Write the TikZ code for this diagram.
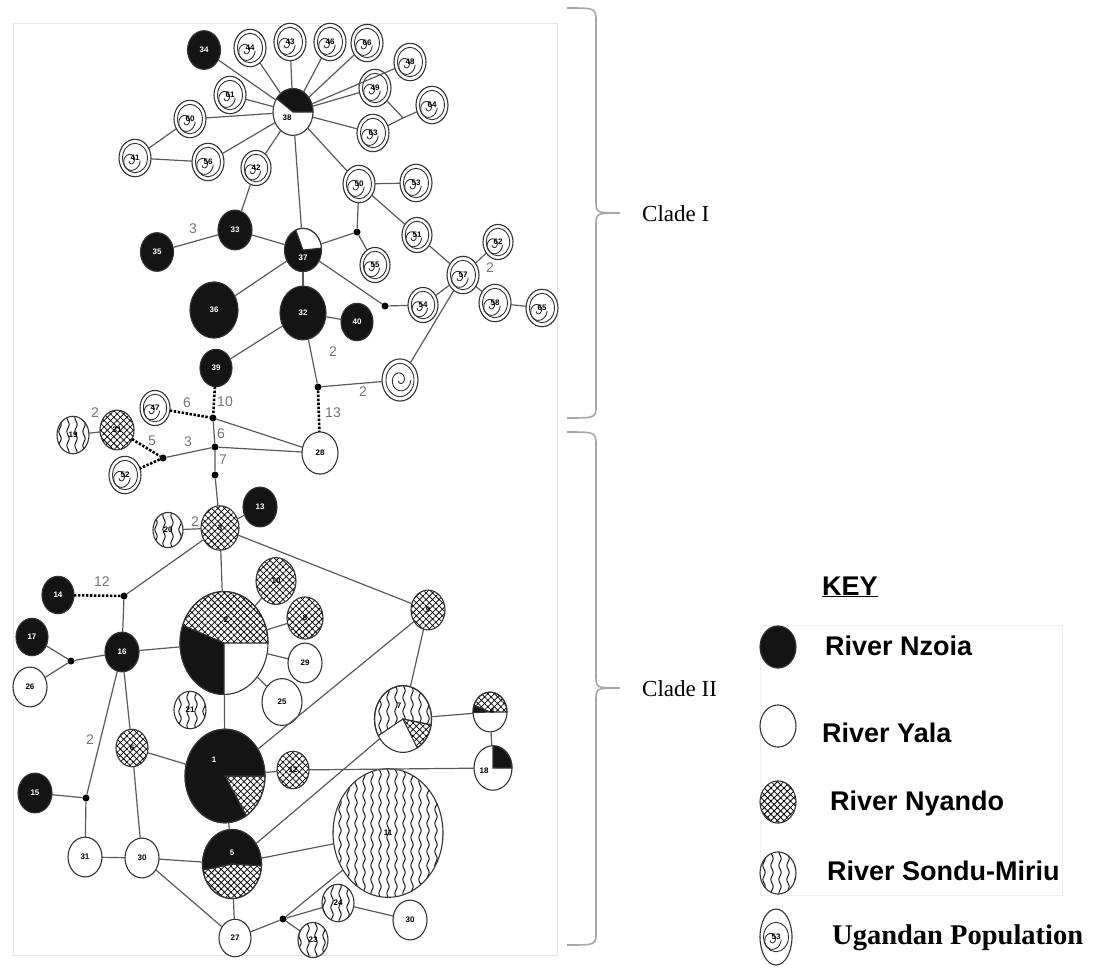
\documentclass[tikz,border=0pt]{standalone}
\usepackage{fontspec}
\setmainfont{Liberation Serif}
\setsansfont{Liberation Sans}
\usetikzlibrary{shapes.geometric,patterns.meta}

\tikzdeclarepattern{
  name=vwave,
  type=uncolored,
  bounding box={(-1pt,-1pt) and (9pt,15pt)},
  tile size={(8pt,14pt)},
  code={\draw[line width=0.9pt] (4pt,0pt) .. controls (2.4pt,3.5pt) .. (4pt,7pt) .. controls (5.6pt,10.5pt) .. (4pt,14pt);}
}

\newcommand\hapfont{\sffamily\bfseries\fontsize{8}{9}\selectfont}
\newcommand\numfont{\sffamily\fontsize{14}{16}\selectfont}
\newcommand\keyfont{\sffamily\bfseries\fontsize{27}{30}\selectfont}
\newcommand\cladefont{\rmfamily\fontsize{23}{26}\selectfont}

% pie slice of a haplotype: node, width, start, end, fill
\newcommand\hwedge[5]{%
  \pgfmathsetmacro\wrx{0.5*#2}\pgfmathsetmacro\wry{0.585*#2}%
  \path[draw=black!80, line width=1.1pt, #5] (#1.center) -- ++(#3:\wrx pt and \wry pt)
    arc[start angle=#3, end angle=#4, x radius=\wrx pt, y radius=\wry pt] -- cycle;}

\tikzset{
  hap/.style={ellipse, draw=black!80, line width=1.1pt, minimum width=#1,
    minimum height={1.17*#1}, inner sep=0pt, outer sep=0pt, font=\hapfont},
  nzfill/.style={fill=black!92},
  yafill/.style={fill=white},
  nyfill/.style={pattern={Hatch[angle=45,distance=4.6pt,line width=0.75pt]}},
  sofill/.style={pattern=vwave},
  nz/.style={hap=#1, nzfill, text=white},
  ya/.style={hap=#1, yafill},
  ny/.style={hap=#1, nyfill},
  so/.style={hap=#1, sofill},
  ug/.style={hap=#1, fill=white, path picture={
    \draw[line width=0.9pt] (path picture bounding box.center)
      ellipse[x radius={0.39*#1pt}, y radius={0.46*#1pt}];
    \draw[line width=0.9pt, shift={(path picture bounding box.center)}]
      plot[domain=0:520, samples=50, smooth, variable=\t]
      ({(0.30-0.26*\t/520)*#1*cos(\t)}, {(0.35-0.30*\t/520)*#1*sin(\t)});}},
  jn/.style={circle, fill=black, inner sep=0pt, minimum size=7pt},
  lnk/.style={draw=black!65, line width=1.2pt},
  mut/.style={draw=black, line width=2.6pt, dash pattern=on 2.4pt off 1.6pt},
  num/.style={font=\numfont, text=black!55, inner sep=1pt},
  brc/.style={draw=gray!70, line width=1.6pt},
}

\begin{document}
\begin{tikzpicture}[x=1pt,y=-1pt]
\useasboundingbox (0,0) rectangle (1111,967);

\draw[gray!20, line width=0.6pt] (13,23) rectangle (557,955);
\draw[gray!12, line width=0.6pt] (760,625) rectangle (1062,895);

%%%%%%%%%%%%%-------------Clade I
\node[ya=40] (h38) at (293,112) {};
\node[nz=33] (h34) at (204,50) {34};
\node[ug=32] (h44) at (250,48) {44};
\node[ug=32] (h43) at (290,42) {43};
\node[ug=32] (h46) at (330,42) {46};
\node[ug=32] (h66) at (367,43) {66};
\node[ug=32] (h48) at (410,62) {48};
\node[ug=32] (h49) at (375,88) {49};
\node[ug=32] (h64) at (432,105) {64};
\node[ug=32] (h63a) at (373,133) {63};
\node[ug=32] (h61) at (230,95) {61};
\node[ug=32] (h60) at (190,119) {60};
\node[ug=32] (h41) at (135,158) {41};
\node[ug=32] (h56) at (208,162) {56};
\node[ug=30] (h42) at (256,168) {42};
\node[ug=32] (h50) at (359,184) {50};
\node[ug=32] (h53) at (416,183) {53};
\node[ug=30] (h51) at (417,235) {51};
\node[ug=30] (h55) at (375,265) {55};
\node[ug=30] (h62) at (498,242) {62};
\node[ug=32] (h57) at (463,275) {57};
\node[ug=32] (h58) at (495,303) {58};
\node[ug=32] (h63b) at (542,308) {65};
\node[ug=30] (h54) at (423,305) {54};
\node[ug=36] (hU) at (400,380) {};
\node[nz=34] (h33) at (235,230) {33};
\node[nz=33] (h35) at (157,252) {35};
\node[nz=37] (h37) at (303,250) {};
\node[nz=48] (h36) at (214,310) {36};
\node[nz=46] (h32) at (303,313) {32};
\node[nz=32] (h40) at (357,322) {40};
\node[nz=32] (h39) at (216,368) {39};
\node[jn] (j1) at (357,232) {};
\node[jn] (j2) at (385,306) {};
\node[jn] (j3) at (318,387) {};
\coordinate (c49) at (403,118);

\hwedge{h38}{40}{0}{145}{nzfill}
\hwedge{h37}{37}{5}{113}{yafill}
\node[font=\hapfont] (l38) at (287,118) {38};
\node[font=\hapfont, text=white] (l37) at (303,258) {37};

\foreach \n in {34,44,43,46,66,48,49,63a,61,60,56,42,50,37}{
\draw[lnk] (h38)--(h\n);}
\draw[lnk] (h49)--(c49)--(h64);
\draw[lnk] (h63a)--(c49);
\draw[lnk] (h41)--(h60);
\draw[lnk] (h41)--(h56);
\draw[lnk] (h42)--(h33);
\draw[lnk] (h33)--(h35);
\draw[lnk] (h33)--(h37);
\draw[lnk] (h37)--(j1)--(h50);
\draw[lnk] (j1)--(h55);
\draw[lnk] (h50)--(h53);
\draw[lnk] (h50)--(h51)--(h57);
\draw[lnk] (h57)--(h62);
\draw[lnk] (h57)--(h58)--(h63b);
\draw[lnk] (h57)--(h54);
\draw[lnk] (h57)--(hU);
\draw[lnk] (h37)--(j2)--(h54);
\draw[lnk] (h37)--(h36);
\draw[lnk] (h37)--(h32);
\draw[lnk] (h32)--(h40);
\draw[lnk] (h32)--(h39);
\draw[lnk] (h32)--(j3)--(hU);

\node[num] (e1) at (193,229) {3};
\node[num] (e2) at (490,268) {2};
\node[num] (e3) at (333,352) {2};
\node[num] (e4) at (363,392) {2};

%%%%%%%%%%%%%-------------between the clades
\node[ug=30] (h47) at (155,408) {47};
\node[ny=34] (h31n) at (117,430) {31};
\node[so=32] (h19) at (73,435) {19};
\node[ug=32] (h52) at (125,475) {52};
\node[ya=36] (h28) at (320,453) {28};
\node[jn] (j4) at (213,418) {};
\node[jn] (j5) at (215,447) {};
\node[jn] (j6) at (163,458) {};
\node[jn] (j7) at (215,475) {};

\draw[mut] (j3)--(h28);
\draw[mut] (h39)--(j4);
\draw[mut] (h47)--(j4);
\draw[mut] (h31n)--(j6)--(h52);
\draw[lnk] (j4)--(j5)--(j7);
\draw[lnk] (j4)--(h28);
\draw[lnk] (j5)--(h28);
\draw[lnk] (j5)--(j6);
\draw[lnk] (h19)--(h31n);

\node[num] (e5) at (225,402) {10};
\node[num] (e6) at (333,413) {13};
\node[num] (e7) at (187,403) {6};
\node[num] (e8) at (95,413) {2};
\node[num] (e9) at (221,434) {6};
\node[num] (e10) at (188,442) {3};
\node[num] (e11) at (152,441) {5};
\node[num] (e12) at (223,460) {7};

%%%%%%%%%%%%%-------------Clade II
\node[ny=38] (h3) at (220,528) {3};
\node[nz=34] (h13) at (260,507) {13};
\node[so=30] (h20) at (168,530) {20};
\node[nz=32] (h14) at (58,595) {14};
\node[nz=32] (h17) at (32,637) {17};
\node[ya=34] (h26) at (30,687) {26};
\node[nz=34] (h16) at (122,652) {16};
\node[ya=88] (h2) at (224,643) {};
\node[ny=40] (h10) at (276,581) {10};
\node[ny=36] (h8) at (305,618) {8};
\node[ya=34] (h29) at (305,663) {29};
\node[ya=40] (h25) at (282,702) {25};
\node[so=32] (h21) at (190,710) {21};
\node[ny=34] (h9) at (428,610) {9};
\node[ya=57] (h7) at (403,719) {};
\node[ya=34] (h4) at (490,712) {};
\node[ya=38] (h18) at (493,768) {};
\node[ya=80] (h1) at (225,776) {};
\node[ny=32] (h12) at (293,770) {12};
\node[ny=32] (h6) at (132,748) {6};
\node[nz=34] (h15) at (35,793) {15};
\node[ya=34] (h31y) at (85,857) {31};
\node[ya=34] (h30a) at (142,858) {30};
\node[ya=59] (h5) at (232,864) {};
\node[so=110] (h11) at (388,833) {11};
\node[ya=32] (h27) at (235,938) {27};
\node[so=32] (h24) at (338,903) {24};
\node[so=30] (h23) at (313,940) {23};
\node[ya=34] (h30b) at (410,920) {30};
\node[jn] (j8) at (124,596) {};
\node[jn] (j9) at (71,661) {};
\node[jn] (j10) at (86,798) {};
\node[jn] (j11) at (283,919) {};

\hwedge{h2}{88}{0}{160}{nyfill}
\hwedge{h2}{88}{160}{270}{nzfill}
\hwedge{h7}{57}{-10}{210}{sofill}
\hwedge{h7}{57}{-60}{-10}{nyfill}
\hwedge{h4}{34}{0}{160}{nyfill}
\hwedge{h4}{34}{160}{182}{nzfill}
\hwedge{h18}{38}{0}{90}{nzfill}
\hwedge{h1}{80}{0}{302}{nzfill}
\hwedge{h1}{80}{302}{360}{nyfill}
\hwedge{h5}{59}{-3}{190}{nzfill}
\hwedge{h5}{59}{190}{357}{nyfill}
\node[font=\hapfont] (l2) at (226,620) {2};
\node[font=\hapfont] (l7) at (399,706) {7};
\node[font=\hapfont] (l4) at (492,711) {4};
\node[font=\hapfont] (l18) at (484,771) {18};
\node[font=\hapfont, text=white] (l1) at (214,760) {1};
\node[font=\hapfont, text=white] (l5) at (232,853) {5};

\draw[lnk] (j7)--(h3);
\draw[lnk] (h3)--(h13);
\draw[lnk] (h3)--(h20);
\draw[lnk] (h3)--(j8);
\draw[lnk] (h3)--(h2);
\draw[lnk] (h3)--(h9);
\draw[mut] (h14)--(j8);
\draw[lnk] (j8)--(h16);
\draw[lnk] (h16)--(j9)--(h17);
\draw[lnk] (j9)--(h26);
\draw[lnk] (h16)--(h2);
\draw[lnk] (h16)--(j10);
\draw[lnk] (h16)--(h6);
\draw[lnk] (h2)--(h10);
\draw[lnk] (h2)--(h8);
\draw[lnk] (h2)--(h29);
\draw[lnk] (h2)--(h25);
\draw[lnk] (h2)--(h1);
\draw[lnk] (h9)--(h1);
\draw[lnk] (h9)--(h7);
\draw[lnk] (h7)--(h4)--(h18);
\draw[lnk] (h18)--(h12);
\draw[lnk] (h7)--(h5);
\draw[lnk] (h1)--(h12);
\draw[lnk] (h6)--(h1);
\draw[lnk] (h6)--(h30a);
\draw[lnk] (h1)--(h5);
\draw[lnk] (j10)--(h15);
\draw[lnk] (j10)--(h31y)--(h30a)--(h5);
\draw[lnk] (h30a)--(h27);
\draw[lnk] (h5)--(h11);
\draw[lnk] (h5)--(h27)--(j11)--(h11);
\draw[lnk] (j11)--(h24)--(h30b);
\draw[lnk] (j11)--(h23);

\node[num] (e13) at (195,522) {2};
\node[num] (e14) at (102,582) {12};
\node[num] (e15) at (90,740) {2};

%%%%%%%%%%%%%-------------braces
\draw[brc] (567,8) .. controls (596,8) .. (596,22) -- (596,200) .. controls (596,213) .. (620,213)
  .. controls (596,213) .. (596,226) -- (596,405) .. controls (596,418) .. (567,418);
\draw[brc] (567,432) .. controls (596,432) .. (596,446) -- (596,675) .. controls (596,688) .. (620,688)
  .. controls (596,688) .. (596,701) -- (596,932) .. controls (596,945) .. (567,945);
\node[font=\cladefont, anchor=base west, inner sep=0pt] (cI) at (642,221) {Clade I};
\node[font=\cladefont, anchor=base west, inner sep=0pt] (cII) at (642,696) {Clade II};

%%%%%%%%%%%%%-------------key
\node[font=\keyfont, anchor=base west, inner sep=0pt] (key) at (822,595) {\underline{KEY}};
\node[nz=36] (kNz) at (778,647) {};
\node[ya=36] (kYa) at (778,726) {};
\node[ny=36] (kNy) at (778,802) {};
\node[so=36] (kSo) at (778,873) {};
\node[ug=32, minimum height=56] (kUg) at (776,937) {53};
\node[font=\keyfont, anchor=base west, inner sep=0pt] (tNz) at (825,655) {River Nzoia};
\node[font=\keyfont, anchor=base west, inner sep=0pt] (tYa) at (822,742) {River Yala};
\node[font=\keyfont, anchor=base west, inner sep=0pt] (tNy) at (830,810) {River Nyando};
\node[font=\keyfont, anchor=base west, inner sep=0pt] (tSo) at (827,880) {River Sondu-Miriu};
\node[font=\rmfamily\bfseries\fontsize{28.5}{30}\selectfont, anchor=base west, inner sep=0pt] (tUg) at (832,944) {Ugandan Population};

\end{tikzpicture}
\end{document}
